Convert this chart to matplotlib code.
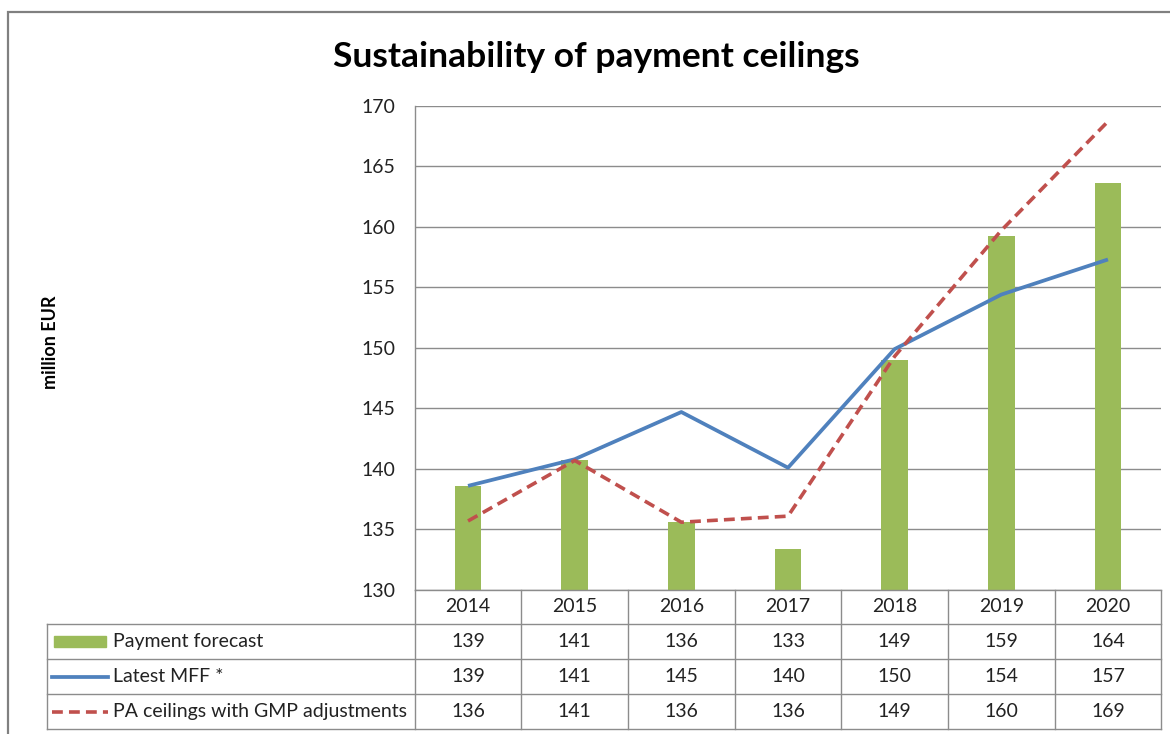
import matplotlib
matplotlib.use("Agg")
import matplotlib.pyplot as plt
from matplotlib.patches import Rectangle
from matplotlib.lines import Line2D

years = ["2014", "2015", "2016", "2017", "2018", "2019", "2020"]
payment_forecast = [138.6, 140.7, 135.6, 133.4, 149.0, 159.2, 163.6]
latest_mff = [138.6, 140.8, 144.7, 140.1, 149.9, 154.4, 157.3]
pa_ceilings = [135.7, 140.7, 135.6, 136.1, 149.3, 159.7, 168.7]
series_names = ["Payment forecast", "Latest MFF *", "PA ceilings with GMP adjustments"]
y_ticks = [130, 135, 140, 145, 150, 155, 160, 165, 170]

GREEN = "#9BBB59"
BLUE = "#4F81BD"
RED = "#C0504D"
GRID = "#8C8C8C"
FONT = "Lato"
FS = 14

W, H = 1170, 734
fig = plt.figure(figsize=(W / 100, H / 100), dpi=100)
fig.patch.set_facecolor("white")

def fx(px):
    return px / W

def fy(py):
    return 1 - py / H

# plot area
pl, pr, pt, pb = 414.7, 1161.3, 105.7, 590.0
ax = fig.add_axes([fx(pl), fy(pb), fx(pr) - fx(pl), fy(pt) - fy(pb)])
x = list(range(len(years)))
ax.bar(x, [v - 130 for v in payment_forecast], bottom=130, width=0.25, color=GREEN, zorder=2)
ax.plot(x, latest_mff, color=BLUE, lw=2.7, zorder=3, solid_capstyle="butt")
ax.plot(x, pa_ceilings, color=RED, lw=2.6, zorder=4, dashes=(3.0, 1.7))
ax.set_xlim(-0.5, len(years) - 0.5)
ax.set_ylim(130, 170)
ax.set_yticks(y_ticks)
ax.set_yticklabels([str(t) for t in y_ticks], fontsize=FS, family=FONT, color="#222222")
ax.tick_params(axis="y", length=0, pad=14)
ax.set_xticks([])
for s in ["top", "right", "bottom"]:
    ax.spines[s].set_visible(False)
ax.spines["left"].set_color(GRID)
ax.spines["left"].set_linewidth(1)
ax.grid(axis="y", color=GRID, lw=1, zorder=0)
ax.set_axisbelow(True)

# y label
fig.text(fx(51), fy(342), "million EUR", rotation=90, ha="center", va="center",
         fontsize=13, fontweight="bold", family=FONT)

# title
fig.text(fx(596), fy(57), "Sustainability of payment ceilings", ha="center", va="center",
         fontsize=25.5, fontweight="bold", family=FONT)

# outer chart border
fig.add_artist(Rectangle((fx(8), fy(740)), fx(1180) - fx(8), fy(12) - fy(740),
                         transform=fig.transFigure, fill=False, ec="#808080", lw=1.6))

# data table
tl = 47.0
row_y = [590.0, 624.0, 659.0, 694.0, 729.0]
col_w = (pr - pl) / len(years)
col_x = [pl + i * col_w for i in range(len(years) + 1)]

def hline(x0, x1, y):
    fig.add_artist(Line2D([fx(x0), fx(x1)], [fy(y), fy(y)], transform=fig.transFigure,
                          color=GRID, lw=1))

def vline(xx, y0, y1):
    fig.add_artist(Line2D([fx(xx), fx(xx)], [fy(y0), fy(y1)], transform=fig.transFigure,
                          color=GRID, lw=1))

hline(pl, pr, row_y[0])
for yy in row_y[1:]:
    hline(tl, pr, yy)
for xx in col_x:
    vline(xx, row_y[0], row_y[-1])
vline(tl, row_y[1], row_y[-1])

for i, yr in enumerate(years):
    cx = (col_x[i] + col_x[i + 1]) / 2
    fig.text(fx(cx), fy((row_y[0] + row_y[1]) / 2), yr, ha="center", va="center",
             fontsize=FS, family=FONT, color="#222222")
    for r, series in enumerate([payment_forecast, latest_mff, pa_ceilings]):
        fig.text(fx(cx), fy((row_y[r + 1] + row_y[r + 2]) / 2), f"{round(series[i])}",
                 ha="center", va="center", fontsize=FS, family=FONT, color="#222222")

# legend keys
for r, name in enumerate(series_names):
    cy = (row_y[r + 1] + row_y[r + 2]) / 2
    if r == 0:
        fig.add_artist(Rectangle((fx(54), fy(cy + 5)), fx(106) - fx(54), fy(cy - 5) - fy(cy + 5),
                                 transform=fig.transFigure, color=GREEN))
    elif r == 1:
        fig.add_artist(Line2D([fx(52), fx(108)], [fy(cy), fy(cy)], transform=fig.transFigure,
                              color=BLUE, lw=2.7))
    else:
        fig.add_artist(Line2D([fx(52), fx(108)], [fy(cy), fy(cy)], transform=fig.transFigure,
                              color=RED, lw=2.6, dashes=(3.0, 1.7)))
    fig.text(fx(113), fy(cy), name, ha="left", va="center", fontsize=FS, family=FONT,
             color="#222222")

fig.savefig("out.png", dpi=100)
